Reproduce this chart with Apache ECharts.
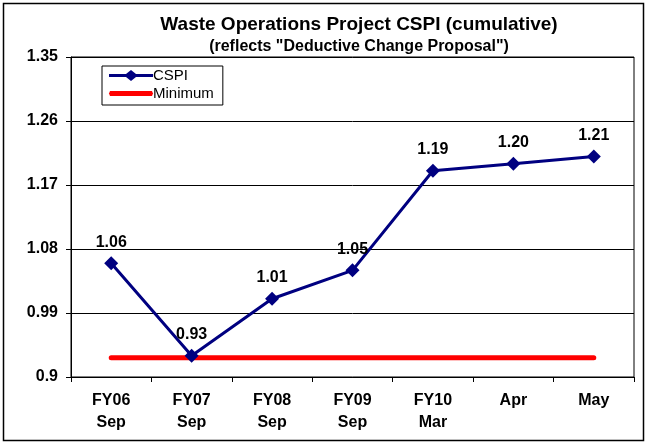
<!DOCTYPE html>
<html>
<head>
<meta charset="utf-8">
<script src="https://cdn.jsdelivr.net/npm/echarts@6/dist/echarts.min.js"></script>
<style>
  html, body { margin: 0; padding: 0; background: #fff; }
  #main { width: 647px; height: 442px; }
</style>
</head>
<body>
<div id="main"></div>
<script>
var categories = ['FY06\nSep', 'FY07\nSep', 'FY08\nSep', 'FY09\nSep', 'FY10\nMar', 'Apr', 'May']
var cspiValues = [1.06, 0.93, 1.01, 1.05, 1.19, 1.20, 1.21]
var minimumValues = [0.927, 0.927, 0.927, 0.927, 0.927, 0.927, 0.927]
var yTicks = [0.9, 0.99, 1.08, 1.17, 1.26, 1.35]

var font = 'Liberation Sans, Arial, sans-serif'
var myChart = echarts.init(document.getElementById('main'))

// legend icons: line + diamond, and thick red bar (M points keep the box 44x14)
var cspiIcon = 'path://M0,0 M0,5.5 L17,5.5 L22,1.5 L27,5.5 L44,5.5 L44,8.5 L27,8.5 L22,12.5 L17,8.5 L0,8.5 Z M44,14'
var minIcon = 'path://M0,0 M1,4.5 L43,4.5 L44,7 L43,9.5 L1,9.5 L0,7 Z M44,14'

var option = {
    backgroundColor: '#fff',
    animation: false,
    title: [
        {
            text: 'Waste Operations Project CSPI (cumulative)',
            left: 354, top: 10, textAlign: 'center',
            textStyle: { fontFamily: font, fontSize: 19, fontWeight: 'bold', color: '#000' },
        },
        {
            text: '(reflects "Deductive Change Proposal")',
            left: 354, top: 34, textAlign: 'center',
            textStyle: { fontFamily: font, fontSize: 16, fontWeight: 'bold', color: '#000' },
        },
    ],
    legend: {
        left: 102, top: 66,
        orient: 'vertical',
        itemGap: 3,
        itemWidth: 44, itemHeight: 14,
        padding: [2, 9, 4, 7],
        borderColor: '#000', borderWidth: 1,
        textStyle: { fontFamily: font, fontSize: 15, color: '#000', padding: [0, 0, 0, -5] },
        data: [
            { name: 'CSPI', icon: cspiIcon },
            { name: 'Minimum', icon: minIcon },
        ],
    },
    grid: {
        left: 71, right: 13, top: 57, bottom: 65,
        show: true, borderColor: '#000', borderWidth: 1,
    },
    xAxis: {
        type: 'category',
        data: categories,
        boundaryGap: true,
        axisLine: { lineStyle: { color: '#000', width: 1 } },
        axisTick: { show: true, interval: 0, length: 5, lineStyle: { color: '#000' } },
        axisLabel: {
            interval: 0, margin: 13, lineHeight: 22,
            fontFamily: font, fontSize: 16, fontWeight: 'bold', color: '#000',
        },
    },
    yAxis: {
        type: 'value',
        min: 0.9, max: 1.35, interval: 0.09,
        axisLine: { show: true, lineStyle: { color: '#000', width: 1 } },
        axisTick: { show: true, length: 5, lineStyle: { color: '#000' } },
        splitLine: { lineStyle: { color: '#000', width: 1 } },
        axisLabel: {
            margin: 13,
            fontFamily: font, fontSize: 16, fontWeight: 'bold', color: '#000',
            formatter: function (v) {
                var t = yTicks.find(function (k) { return Math.abs(k - v) < 1e-6 })
                return t !== undefined ? String(t) : ''
            },
        },
    },
    series: [
        {
            name: 'Minimum',
            type: 'line',
            data: minimumValues,
            symbol: 'none',
            lineStyle: { color: '#ff0000', width: 5, cap: 'round' },
            itemStyle: { color: '#ff0000' },
            z: 1,
        },
        {
            name: 'CSPI',
            type: 'line',
            data: cspiValues,
            symbol: 'diamond',
            symbolSize: 14,
            lineStyle: { color: '#000080', width: 3 },
            itemStyle: { color: '#000080' },
            label: {
                show: true, position: 'top', distance: 6,
                fontFamily: font, fontSize: 16, fontWeight: 'bold', color: '#000',
                formatter: function (p) { return p.value.toFixed(2) },
            },
            z: 2,
        },
    ],
    graphic: [
        {
            type: 'rect',
            shape: { x: 3.5, y: 3.5, width: 640, height: 437 },
            style: { fill: 'none', stroke: '#000', lineWidth: 1.5 },
            silent: true,
        },
    ],
}
myChart.setOption(option)
</script>
</body>
</html>
